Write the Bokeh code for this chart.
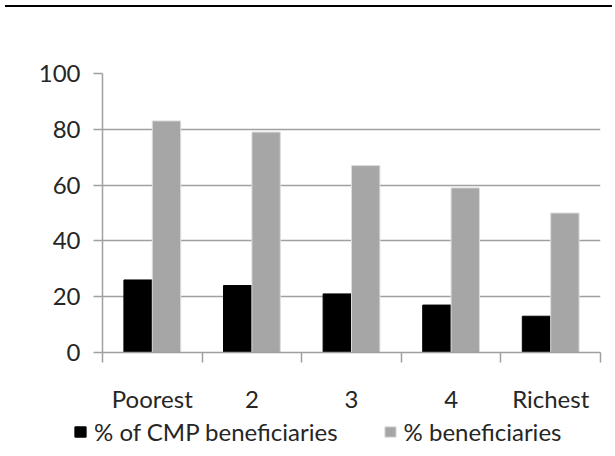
from bokeh.plotting import figure
from bokeh.models import (Range1d, LinearAxis, FixedTicker, Legend, LegendItem,
                          ColumnDataSource, Div)
from bokeh.layouts import column
from bokeh.transform import dodge
from bokeh.embed import file_html
from bokeh.resources import INLINE

categories = ["Poorest", "2", "3", "4", "Richest"]
cmp_beneficiaries = [26, 24, 21, 17, 13]
beneficiaries = [83, 79, 67, 59, 50]
y_ticks = [0, 20, 40, 60, 80, 100]
series_names = ["% of CMP beneficiaries", "% beneficiaries"]
series_fields = ["cmp", "ben"]
series_colors = ["black", "#a6a6a6"]
series_lines = ["black", "#dcdcdc"]

FONT = "Lato"
FS = "24px"
TXT = "#262626"
AX = "#a0a0a0"
W = 607

pos = [i + 0.5 for i in range(len(categories))]
src = ColumnDataSource(dict(x=pos, cmp=cmp_beneficiaries, ben=beneficiaries))

p = figure(width=W, height=404, output_backend="svg", toolbar_location=None,
           x_range=Range1d(0, len(categories)), y_range=Range1d(0, 100),
           x_axis_location=None, y_axis_location=None)
p.frame_align = False
p.min_border_left = 102
p.min_border_right = 7
p.min_border_top = 61
p.min_border_bottom = 64
p.outline_line_color = None
p.background_fill_color = "white"
p.border_fill_color = "white"

bw = 0.285
offsets = [-bw / 2, bw / 2]
for f, off, fc, lc in zip(series_fields, offsets, series_colors, series_lines):
    p.vbar(x=dodge("x", off, range=p.x_range), top=f, width=bw, bottom=0,
           source=src, fill_color=fc, line_color=lc, line_width=1)

yaxis = LinearAxis(ticker=FixedTicker(ticks=y_ticks, minor_ticks=[]))
yaxis.axis_line_color = AX
yaxis.axis_line_width = 1.5
yaxis.major_tick_line_color = AX
yaxis.major_tick_line_width = 1.5
yaxis.major_tick_out = 9
yaxis.major_tick_in = 0
yaxis.minor_tick_line_color = None
yaxis.major_label_standoff = 13
yaxis.major_label_text_font = FONT
yaxis.major_label_text_font_size = FS
yaxis.major_label_text_color = TXT
p.add_layout(yaxis, "left")

xaxis = LinearAxis(ticker=FixedTicker(ticks=pos, minor_ticks=list(range(len(categories) + 1))))
xaxis.major_label_overrides = {x: c for x, c in zip(pos, categories)}
xaxis.axis_line_color = AX
xaxis.axis_line_width = 1.5
xaxis.major_tick_line_color = None
xaxis.major_tick_out = 0
xaxis.major_tick_in = 0
xaxis.minor_tick_line_color = AX
xaxis.minor_tick_line_width = 1.5
xaxis.minor_tick_out = 10
xaxis.minor_tick_in = 0
xaxis.major_label_standoff = 21
xaxis.major_label_text_font = FONT
xaxis.major_label_text_font_size = FS
xaxis.major_label_text_color = TXT
p.add_layout(xaxis, "below")

p.xgrid.visible = False
p.ygrid.ticker = FixedTicker(ticks=y_ticks[1:])
p.ygrid.grid_line_color = AX
p.ygrid.grid_line_width = 1.5

# legend strip below the chart (bars themselves lie outside its visible range)
lf = figure(width=W, height=36, output_backend="svg", toolbar_location=None,
            x_range=Range1d(0, len(categories)), y_range=Range1d(1000, 1001),
            x_axis_location=None, y_axis_location=None)
lf.frame_align = False
lf.min_border = 0
lf.min_border_left = 0
lf.min_border_right = 0
lf.min_border_top = 0
lf.min_border_bottom = 0
lf.outline_line_color = None
lf.background_fill_alpha = 0
lf.border_fill_alpha = 0
lf.xgrid.visible = False
lf.ygrid.visible = False
items = []
for name, f, fc, lc in zip(series_names, series_fields, series_colors, series_lines):
    r = lf.vbar(x="x", top=f, width=bw, source=src, fill_color=fc, line_color=lc)
    items.append(LegendItem(label=name, renderers=[r]))
legend = Legend(items=items, orientation="horizontal", location=(73, 6))
legend.margin = 0
legend.padding = 0
legend.spacing = 45
legend.border_line_color = None
legend.background_fill_alpha = 0
legend.glyph_width = 14
legend.glyph_height = 13
legend.label_standoff = 7
legend.label_text_font = FONT
legend.label_text_font_size = FS
legend.label_text_color = TXT
lf.add_layout(legend, "center")

top_line = Div(text="", width=W, height=2, styles={"background-color": "black"})
layout = column(top_line, p, lf, spacing=0)

open("out.html", "w").write(file_html(layout, INLINE))
